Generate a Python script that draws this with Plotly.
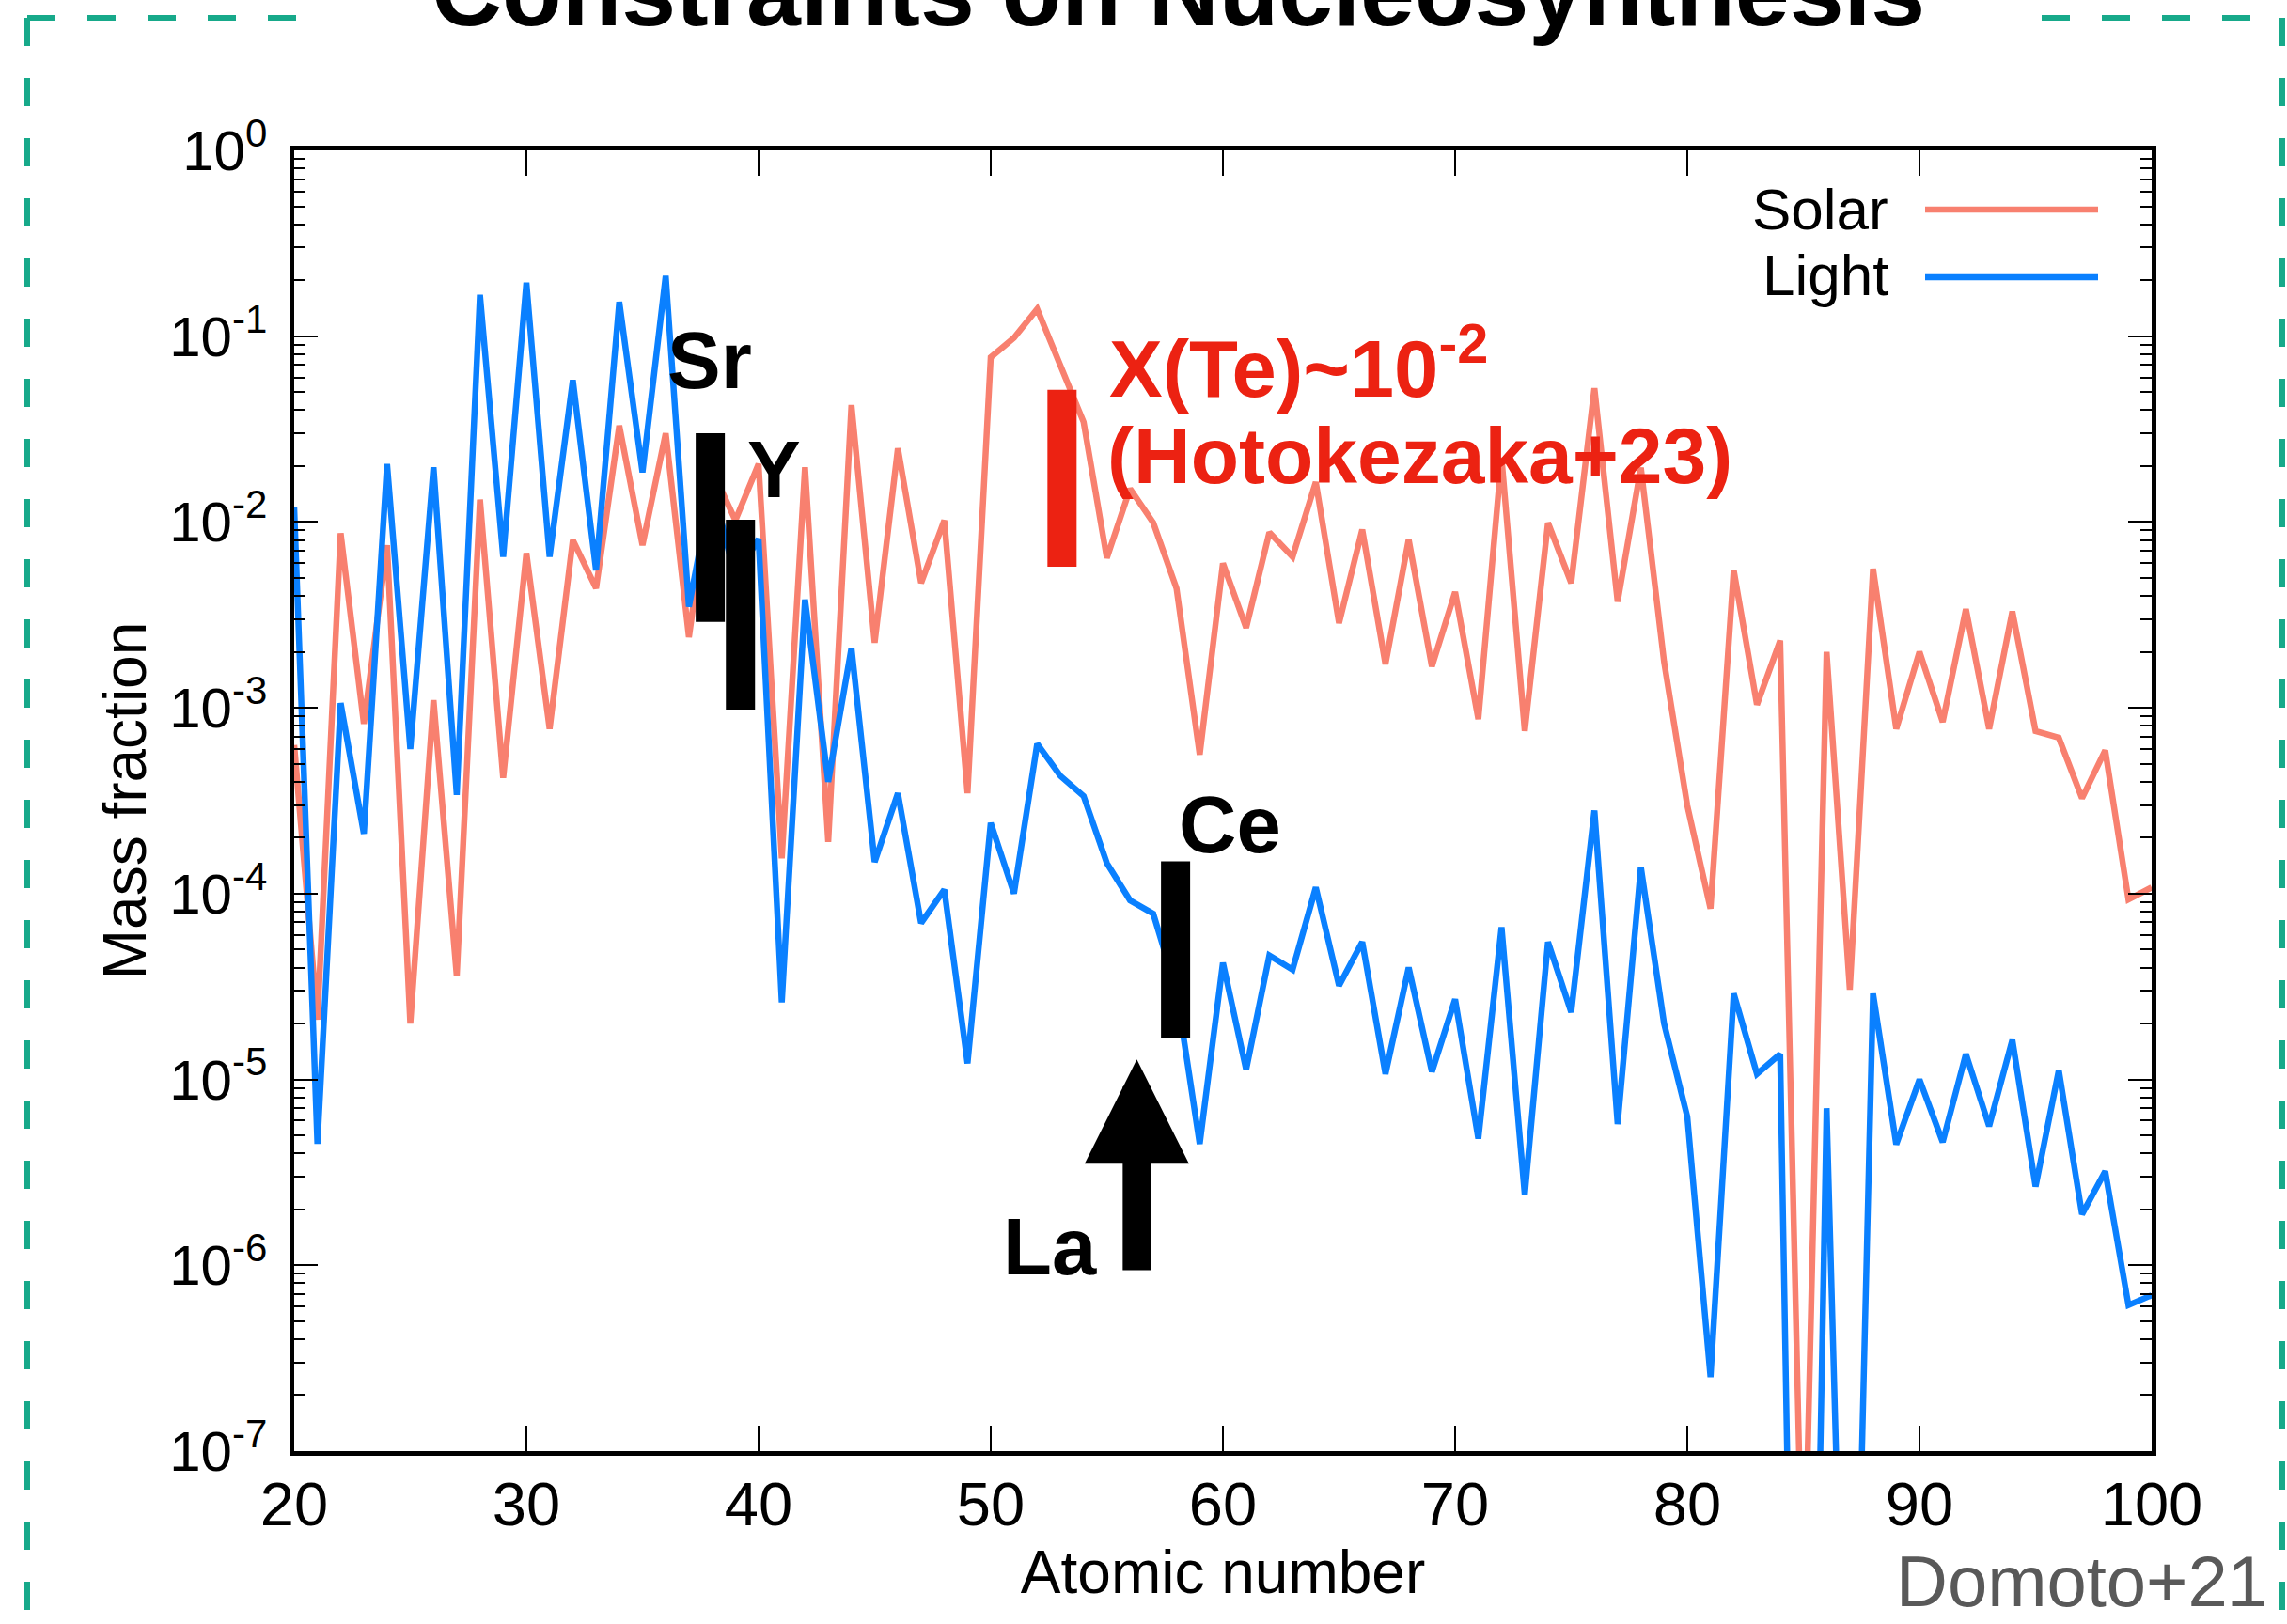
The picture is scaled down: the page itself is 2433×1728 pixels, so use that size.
import math
import plotly.graph_objects as go

# ---------------- data ----------------
atomic_number = list(range(20, 101))

solar = [
    6.3e-4, 2.1e-5, 8.7e-3, 8.2e-4, 7.5e-3, 2.0e-5, 1.1e-3, 3.6e-5, 1.32e-2, 4.2e-4,   # 20-29
    6.8e-3, 7.7e-4, 8.0e-3, 4.4e-3, 3.3e-2, 7.5e-3, 3.0e-2, 2.4e-3, 1.9e-2, 1.02e-2,   # 30-39
    2.05e-2, 1.55e-4, 1.97e-2, 1.9e-4, 4.26e-2, 2.24e-3, 2.49e-2, 4.7e-3, 1.02e-2, 3.47e-4,  # 40-49
    7.7e-2, 9.8e-2, 1.4e-1, 7.0e-2, 3.45e-2, 6.4e-3, 1.51e-2, 9.9e-3, 4.4e-3, 5.6e-4,  # 50-59
    6.0e-3, 2.7e-3, 8.8e-3, 6.5e-3, 1.64e-2, 2.86e-3, 9.1e-3, 1.72e-3, 8.05e-3, 1.67e-3,  # 60-69
    4.2e-3, 8.7e-4, 2.22e-2, 7.5e-4, 9.9e-3, 4.7e-3, 5.25e-2, 3.73e-3, 1.96e-2, 1.77e-3,  # 70-79
    2.98e-4, 8.3e-5, 5.5e-3, 1.04e-3, 2.3e-3, 1.0e-8, 2.0e-3, 3.04e-5, 5.6e-3, 7.7e-4,  # 80-89
    2.0e-3, 8.4e-4, 3.4e-3, 7.7e-4, 3.3e-3, 7.5e-4, 6.9e-4, 3.26e-4, 5.9e-4, 9.3e-5,   # 90-99
    1.08e-4,                                                                            # 100
]

light = [
    1.2e-2, 4.5e-6, 1.06e-3, 2.1e-4, 2.05e-2, 6.0e-4, 1.97e-2, 3.4e-4, 1.67e-1, 6.5e-3,  # 20-29
    1.94e-1, 6.5e-3, 5.8e-2, 5.5e-3, 1.53e-1, 1.85e-2, 2.11e-1, 3.5e-3, 1.6e-2, 5.0e-3,  # 30-39
    8.1e-3, 2.6e-5, 3.83e-3, 4.0e-4, 2.1e-3, 1.48e-4, 3.47e-4, 6.95e-5, 1.05e-4, 1.22e-5,  # 40-49
    2.4e-4, 1.0e-4, 6.4e-4, 4.3e-4, 3.35e-4, 1.46e-4, 9.2e-5, 7.8e-5, 3.0e-5, 4.5e-6,   # 50-59
    4.25e-5, 1.13e-5, 4.65e-5, 3.9e-5, 1.08e-4, 3.2e-5, 5.5e-5, 1.07e-5, 4.0e-5, 1.1e-5,  # 60-69
    2.7e-5, 4.8e-6, 6.6e-5, 2.4e-6, 5.5e-5, 2.3e-5, 2.8e-4, 5.75e-6, 1.39e-4, 2.0e-5,   # 70-79
    6.3e-6, 2.5e-7, 2.9e-5, 1.07e-5, 1.37e-5, 1.0e-12, 7.0e-6, 2.0e-10, 2.9e-5, 4.47e-6,  # 80-89
    1.0e-5, 4.6e-6, 1.37e-5, 5.6e-6, 1.63e-5, 2.65e-6, 1.12e-5, 1.88e-6, 3.2e-6, 6.1e-7,  # 90-99
    6.9e-7,                                                                             # 100
]

# observational constraints (vertical ranges)
bar_labels = ["Sr", "Y", "Ce"]
bar_z = [37.92, 39.22, 57.96]
bar_low = [2.9e-3, 9.8e-4, 1.66e-5]
bar_high = [3.0e-2, 1.03e-2, 1.49e-4]

te_z = [53.07]
te_low = [5.74e-3]
te_high = [5.14e-2]

la_z = 56.29
la_tail = 9.2e-7
la_head = 1.28e-5

x_tickvals = [20, 30, 40, 50, 60, 70, 80, 90, 100]
x_ticktext = ["20", "30", "40", "50", "60", "70", "80", "90", "100"]
y_tickvals = [1e0, 1e-1, 1e-2, 1e-3, 1e-4, 1e-5, 1e-6, 1e-7]
y_ticktext = ["10<sup>0</sup>", "10<sup>-1</sup>", "10<sup>-2</sup>", "10<sup>-3</sup>",
              "10<sup>-4</sup>", "10<sup>-5</sup>", "10<sup>-6</sup>", "10<sup>-7</sup>"]

# ---------------- styling ----------------
W, H = 2433, 1728
L, R, T, B = 313, 2289, 160, 1544          # plot area in pixels
SALMON = "#F8806F"
BLUE = "#0A80FF"
RED = "#EC2212"
TEAL = "#17A98A"
FONT = "Liberation Sans, Arial, Helvetica, sans-serif"
LW = 6.5


def pxx(x):
    return (x - L) / (R - L)


def pxy(y):
    return (B - y) / (B - T)


fig = go.Figure()

fig.add_trace(go.Scatter(x=atomic_number, y=solar, mode="lines", name="Solar",
                         line=dict(color=SALMON, width=LW), showlegend=False))
fig.add_trace(go.Scatter(x=atomic_number, y=light, mode="lines", name="Light",
                         line=dict(color=BLUE, width=LW), showlegend=False))

for lab, z, lo, hi in zip(bar_labels, bar_z, bar_low, bar_high):
    fig.add_trace(go.Scatter(x=[z, z], y=[lo, hi], mode="lines", name=lab,
                             line=dict(color="black", width=31), showlegend=False))
for z, lo, hi in zip(te_z, te_low, te_high):
    fig.add_trace(go.Scatter(x=[z, z], y=[lo, hi], mode="lines", name="Te",
                             line=dict(color=RED, width=31), showlegend=False))

annotations = []

# La lower-limit arrow
annotations.append(dict(x=la_z, y=math.log10(la_head), xref="x", yref="y",
                        ax=la_z, ay=math.log10(la_tail), axref="x", ayref="y",
                        text=" ", font=dict(size=1), showarrow=True, arrowhead=2,
                        arrowwidth=30, arrowsize=0.74, arrowcolor="black", standoff=0))


def label(text, x, baseline, size, color="black", anchor="center", bold=True, family=FONT):
    annotations.append(dict(
        x=pxx(x), y=pxy(baseline + 0.212 * size + 1), xref="paper", yref="paper",
        xanchor=anchor, yanchor="bottom", showarrow=False,
        text=("<b>%s</b>" % text) if bold else text,
        font=dict(size=size, color=color, family=family)))


label("Constraints on Nucleosynthesis", 1253, 28, 104)
label("Sr", 755, 414, 85)
label("Y", 823, 530, 85)
label("Ce", 1308, 908, 85)
label("La", 1117, 1357, 85)
label("X(Te)~10<sup>-2</sup>", 1178, 423, 85, color=RED, anchor="left")
label("(Hotokezaka+23)", 1176, 515, 84, color=RED, anchor="left")
label("Solar", 2011, 245, 62, anchor="right", bold=False)
label("Light", 2011, 315, 62, anchor="right", bold=False)
label("Domoto+21", 2414, 1710, 76, color="#595959", anchor="right", bold=False)

shapes = []
# legend line samples
for yy, col in [(223, SALMON), (295, BLUE)]:
    shapes.append(dict(type="line", xref="paper", yref="paper",
                       x0=pxx(2048), x1=pxx(2232), y0=pxy(yy), y1=pxy(yy),
                       line=dict(color=col, width=LW)))
# dashed frame of the slide
dash = "30px,34px"
for x0, y0, x1, y1 in [(29, 19, 29, 1800), (2428, 19, 2428, 1800),
                       (29, 19, 322, 19), (2172, 19, 2428, 19)]:
    shapes.append(dict(type="line", xref="paper", yref="paper",
                       x0=pxx(x0), x1=pxx(x1), y0=pxy(y0), y1=pxy(y1),
                       line=dict(color=TEAL, width=6, dash=dash)))

minor_vals = [m * 10.0 ** k for k in range(-7, 0) for m in range(2, 10)]

fig.update_layout(
    width=W, height=H,
    margin=dict(l=L, r=W - R, t=T, b=H - B, pad=0),
    paper_bgcolor="white", plot_bgcolor="white",
    font=dict(family=FONT, color="black"),
    showlegend=False,
    annotations=annotations,
    shapes=shapes,
    xaxis=dict(
        range=[20, 100], tickmode="array", tickvals=x_tickvals, ticktext=x_ticktext,
        showline=True, linecolor="black", linewidth=4.5, mirror="allticks",
        ticks="inside", ticklen=27, tickwidth=2, tickcolor="black",
        tickfont=dict(size=65), ticklabelstandoff=-4,
        showgrid=False, zeroline=False,
        title=dict(text="Atomic number", font=dict(size=64), standoff=4),
    ),
    yaxis=dict(
        type="log", range=[-7, 0], tickmode="array", tickvals=y_tickvals, ticktext=y_ticktext,
        showline=True, linecolor="black", linewidth=4.5, mirror="allticks",
        ticks="inside", ticklen=25, tickwidth=2, tickcolor="black",
        tickfont=dict(size=60), ticklabelstandoff=12,
        minor=dict(tickmode="array", tickvals=minor_vals, ticks="inside", ticklen=12,
                   tickwidth=2, tickcolor="black", showgrid=False),
        showgrid=False, zeroline=False,
        title=dict(text="Mass fraction", font=dict(size=64), standoff=5),
    ),
)

fig.write_html("out.html")
